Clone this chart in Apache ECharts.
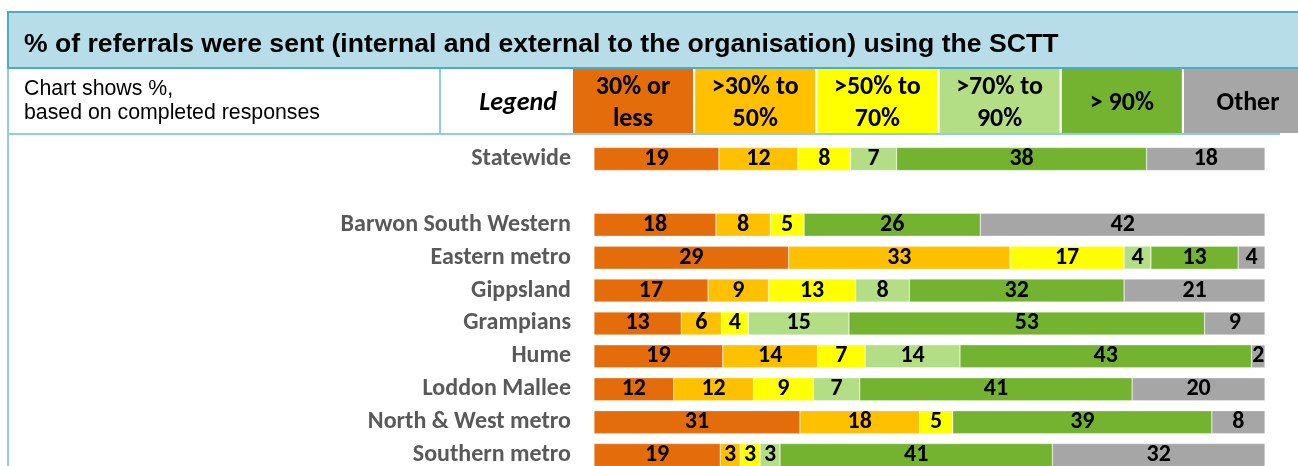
<!DOCTYPE html>
<html>
<head>
<meta charset="utf-8">
<script src="https://cdn.jsdelivr.net/npm/echarts@6/dist/echarts.min.js"></script>
<style>
  html, body { margin: 0; padding: 0; background: #fff; }
  #main { width: 1298px; height: 466px; }
</style>
</head>
<body>
<div id="main"></div>
<script>
// rows (blank entry = gap after Statewide)
var regions = ['Statewide', '', 'Barwon South Western', 'Eastern metro', 'Gippsland', 'Grampians',
  'Hume', 'Loddon Mallee', 'North & West metro', 'Southern metro'];

// % of respondents per band, as labelled in the chart
var upTo30 = [19, null, 18, 29, 17, 13, 19, 12, 31, 19];
var from30to50 = [12, null, 8, 33, 9, 6, 14, 12, 18, 3];
var from50to70 = [8, null, 5, 17, 13, 4, 7, 9, 5, 3];
var from70to90 = [7, null, 0, 4, 8, 15, 14, 7, 0, 3];
var over90 = [38, null, 26, 13, 32, 53, 43, 41, 39, 41];
var otherResp = [18, null, 42, 4, 21, 9, 2, 20, 8, 32];

var bandLabels = ['30% or\nless', '>30% to\n50%', '>50% to\n70%', '>70% to\n90%', '> 90%', 'Other'];
var bandColors = ['#e46c0a', '#ffc000', '#ffff00', '#b4de86', '#74b32f', '#a6a6a6'];

var bands = [upTo30, from30to50, from50to70, from70to90, over90, otherResp];
var calibri = "Carlito, Lato, 'Open Sans', sans-serif";

// row totals -> 100% stacked like the excel chart
var rowTotals = regions.map(function (r, i) {
  var s = 0;
  bands.forEach(function (b) { s += b[i] || 0; });
  return s;
});

var series = bands.map(function (b, k) {
  return {
    name: bandLabels[k].replace('\n', ' '),
    type: 'bar',
    stack: 'all',
    barWidth: 23,
    itemStyle: { color: bandColors[k], borderColor: 'rgba(255,255,255,0.6)', borderWidth: 0.5 },
    label: {
      show: true,
      position: 'inside',
      color: '#000',
      fontFamily: calibri,
      fontWeight: 'bold',
      fontSize: 24,
      formatter: function (p) { return b[p.dataIndex] ? b[p.dataIndex] : ''; }
    },
    data: b.map(function (v, i) {
      if (v === null) return null;
      return v / rowTotals[i] * 100;
    })
  };
});

// header table
var gfx = [];
gfx.push({ type: 'rect', shape: { x: 8, y: 12, width: 1290, height: 57 }, style: { fill: '#b7dde8' } });
gfx.push({ type: 'rect', shape: { x: 7, y: 11, width: 1291, height: 2 }, style: { fill: '#4bacc6' } });
gfx.push({ type: 'rect', shape: { x: 7, y: 67, width: 1291, height: 2 }, style: { fill: '#4bacc6' } });
gfx.push({ type: 'rect', shape: { x: 7, y: 11, width: 2, height: 60 }, style: { fill: '#4bacc6' } });
gfx.push({ type: 'rect', shape: { x: 7, y: 69, width: 2, height: 397 }, style: { fill: '#92cddc' } });
gfx.push({ type: 'rect', shape: { x: 7, y: 133, width: 1273, height: 2 }, style: { fill: '#92cddc' } });
gfx.push({ type: 'rect', shape: { x: 439, y: 69, width: 2, height: 65 }, style: { fill: '#92cddc' } });
gfx.push({ type: 'text', x: 24, y: 45, style: {
  text: '% of referrals were sent (internal and external to the organisation) using the SCTT',
  font: "bold 26.6px 'Liberation Sans', Arial, sans-serif", fill: '#000', verticalAlign: 'middle' } });
gfx.push({ type: 'text', x: 24, y: 101, style: {
  text: 'Chart shows %,\nbased on completed responses', lineHeight: 24,
  font: "21.3px 'Liberation Sans', Arial, sans-serif", fill: '#000', verticalAlign: 'middle' } });
gfx.push({ type: 'text', x: 557, y: 103, style: {
  text: 'Legend', font: 'italic bold 26px ' + calibri, fill: '#000', align: 'right', verticalAlign: 'middle' } });

bandLabels.forEach(function (lab, k) {
  var x0 = 573 + k * 122.2;
  gfx.push({ type: 'rect', shape: { x: x0, y: 69, width: k === 5 ? 140 : 120, height: 64 }, style: { fill: bandColors[k] } });
  gfx.push({ type: 'text', x: x0 + (k === 5 ? 64 : 60), y: 103, style: {
    text: lab, lineHeight: 32, font: 'bold 26px ' + calibri, fill: '#000', align: 'center', verticalAlign: 'middle' } });
});

var chart = echarts.init(document.getElementById('main'));
chart.setOption({
  backgroundColor: '#fff',
  animation: false,
  grid: { left: 594, width: 671, top: 142.5, height: 329, outerBoundsMode: 'none', containLabel: false },
  xAxis: { type: 'value', min: 0, max: 100, show: false },
  yAxis: {
    type: 'category',
    inverse: true,
    data: regions,
    axisLine: { show: false },
    axisTick: { show: false },
    axisLabel: { margin: 23, color: '#595959', fontFamily: calibri, fontWeight: 'bold', fontSize: 24 }
  },
  series: series,
  graphic: gfx
});
</script>
</body>
</html>
